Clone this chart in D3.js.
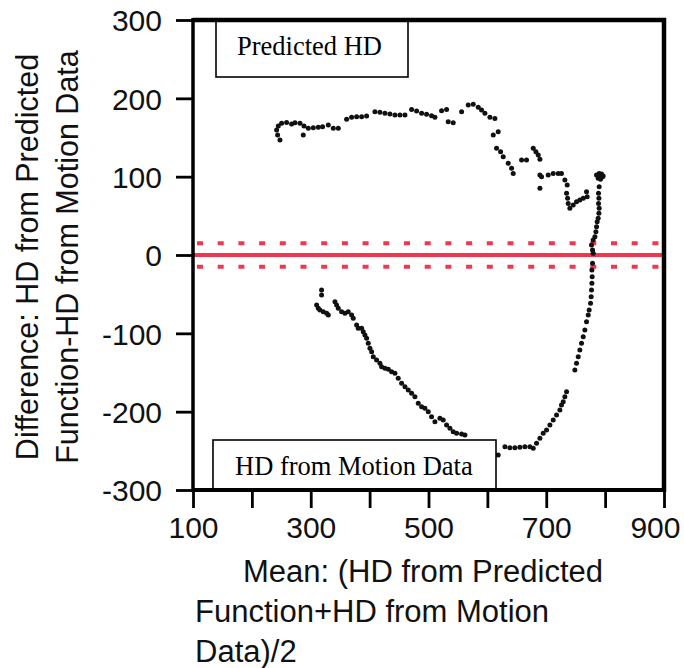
<!DOCTYPE html>
<html>
<head>
<meta charset="utf-8">
<script src="https://cdn.jsdelivr.net/npm/d3@7"></script>
<style>
  body { margin: 0; background: #fff; }
  svg { display: block; }
</style>
</head>
<body>
<div id="wrapper"></div>
<script>
// upper branch: predicted HD larger than motion HD
const upperX = [247.7, 243.7, 242.0, 244.9, 250.5, 259.0, 267.5, 273.2, 281.7, 288.5, 287.3, 295.8, 304.3, 312.8, 320.1, 329.8, 338.3, 346.8,
  360.9, 369.4, 377.9, 386.4, 394.9, 409.0, 417.5, 426.0, 434.5, 443.0, 451.5, 460.0, 471.3, 479.8, 488.3, 496.7, 505.2, 510.9,
  522.2, 530.7, 533.5, 542.0, 556.2, 567.5, 576.0, 584.5, 590.1, 595.8, 604.3, 612.8, 610.0, 618.4, 615.6, 622.4, 626.9, 635.4,
  641.1, 643.9, 658.1, 666.5, 677.9, 682.4, 686.4, 689.2, 689.2, 692.0, 689.2, 703.3, 711.8, 720.3, 725.9, 731.6, 735.6, 734.5,
  736.2, 737.3, 740.1, 745.8, 751.4, 757.1, 762.8, 768.4, 769.5]
const upperY = [146.8, 153.2, 159.6, 164.7, 168.1, 169.3, 167.2, 168.9, 168.1, 164.7, 153.2, 161.7, 162.5, 163.0, 163.8, 165.9, 161.7, 161.7,
  173.2, 175.7, 176.6, 176.6, 177.4, 183.0, 182.1, 180.8, 180.0, 178.7, 178.7, 178.7, 185.9, 183.8, 180.8, 179.6, 177.8, 175.7,
  184.2, 185.9, 170.2, 168.9, 183.0, 191.5, 192.3, 188.5, 185.1, 180.8, 175.7, 174.4, 153.2, 157.4, 136.2, 131.9, 125.5, 117.0,
  110.6, 104.2, 121.3, 121.3, 136.2, 131.9, 127.6, 122.1, 102.1, 100.0, 85.1, 102.1, 104.2, 104.2, 104.2, 95.7, 89.3, 78.7,
  72.3, 65.9, 59.6, 63.8, 68.1, 70.2, 72.3, 80.8, 74.5]

// near-vertical part on the right, crossing zero
const rightX = [785.4, 789.9, 793.9, 795.6, 792.2, 788.2, 796.7, 791.1, 789.9, 788.8, 789.4, 788.8, 789.9, 789.4, 788.2, 786.5,
  785.4, 784.3, 782.6, 779.7, 776.9, 778.6, 779.7, 778.6, 777.5, 778.0, 777.5, 776.9, 776.3, 775.2, 772.9, 771.3, 768.4,
  765.6, 762.8, 759.9, 757.1, 754.3, 751.4, 748.6, 734.5, 731.6, 728.8, 725.9, 723.1, 717.5, 711.8, 706.2, 700.5, 694.8,
  689.2, 683.5, 677.9, 672.2, 663.7, 655.2, 646.7, 638.2, 629.8, 618.4]
const rightY = [102.1, 104.2, 103.4, 100.0, 96.6, 97.9, 100.8, 100.0, 87.2, 78.7, 72.3, 65.9, 59.6, 53.2, 46.8, 42.5,
  36.2, 29.8, 23.4, 19.1, 12.8, 6.4, 2.1, -10.6, -19.2, -27.7, -36.2, -44.7, -53.2, -61.7, -70.2, -76.6, -85.1,
  -95.7, -104.3, -112.8, -121.3, -129.8, -138.3, -146.8, -174.5, -180.8, -187.2, -191.5, -197.9, -204.2, -210.6, -217.0, -223.4, -227.7,
  -234.0, -240.4, -246.8, -244.7, -244.7, -245.5, -246.0, -246.0, -244.7, -255.3]

// lower-left branch
const lowerX = [318.4, 318.4, 310.0, 312.8, 315.6, 321.3, 327.0, 329.8, 341.1, 343.9, 346.8, 352.4, 358.1, 363.7, 369.4, 372.2,
  377.9, 380.7, 386.4, 389.2, 392.0, 394.9, 397.7, 400.5, 403.4, 406.2, 411.8, 417.5, 420.3, 426.0, 431.7, 437.3, 443.0,
  448.6, 454.3, 460.0, 465.6, 471.3, 476.9, 482.6, 488.3, 493.9, 499.6, 505.2, 510.9, 519.4, 525.0, 530.7, 536.4, 542.0,
  547.7, 556.2, 561.9]
const lowerY = [-44.7, -51.1, -63.8, -68.1, -70.2, -72.3, -74.5, -76.6, -59.6, -63.8, -68.1, -72.3, -74.5, -72.3, -76.6, -80.9,
  -89.4, -93.6, -93.6, -97.9, -102.1, -106.4, -112.8, -119.1, -123.4, -129.8, -134.0, -138.3, -142.6, -144.7, -145.9, -148.9, -151.1,
  -157.4, -163.8, -168.1, -172.3, -176.6, -180.8, -189.4, -193.6, -195.7, -200.0, -206.4, -212.8, -208.5, -210.6, -217.0, -221.3, -225.5,
  -227.7, -228.5, -229.8]

const meanDiff = 0
const limits = [15, -15]

const yTicks = [300, 200, 100, 0, -100, -200, -300]
const xTicks = [100, 200, 300, 400, 500, 600, 700, 800, 900]
const xLabels = [100, 300, 500, 700, 900]

const yTitle = ["Difference: HD from Predicted", "Function-HD from Motion Data"]
const xTitle = ["Mean: (HD from Predicted", "Function+HD from Motion", "Data)/2"]
const boxLabels = ["Predicted HD", "HD from Motion Data"]

const points = []
;[[upperX, upperY], [rightX, rightY], [lowerX, lowerY]].forEach(([xs, ys]) => {
  xs.forEach((x, i) => points.push({ x: x, y: ys[i] }))
})

const dms = { width: 684, height: 668, left: 193, right: 664, top: 20, bottom: 490 }

const svg = d3.select("#wrapper")
  .append("svg")
  .attr("width", dms.width)
  .attr("height", dms.height)

const xScale = d3.scaleLinear().domain([100, 900]).range([dms.left, dms.right])
const yScale = d3.scaleLinear().domain([-300, 300]).range([dms.bottom, dms.top])

const sans = "Arial, 'Liberation Sans', sans-serif"
const serif = "'Times New Roman', 'Liberation Serif', serif"

// red mean and limit lines
svg.append("line")
  .attr("x1", dms.left).attr("x2", dms.right)
  .attr("y1", yScale(meanDiff)).attr("y2", yScale(meanDiff))
  .attr("stroke", "#f0374f").attr("stroke-width", 4)

svg.selectAll(".limit")
  .data(limits)
  .join("line")
  .attr("x1", dms.left + 4).attr("x2", dms.right)
  .attr("y1", d => yScale(d)).attr("y2", d => yScale(d))
  .attr("stroke", "#f0374f").attr("stroke-width", 4)
  .attr("stroke-dasharray", "6 14.7")

// points
svg.selectAll(".dot")
  .data(points)
  .join("circle")
  .attr("cx", d => xScale(d.x))
  .attr("cy", d => yScale(d.y))
  .attr("r", 2.5)
  .attr("fill", "#111")

// legend-like boxes
const boxes = [
  { label: boxLabels[0], x: 216, y: 21, w: 192, h: 56, base: 55, tx: 237 },
  { label: boxLabels[1], x: 213, y: 440, w: 283, h: 50, base: 475, tx: 235 }
]
boxes.forEach(b => {
  svg.append("rect")
    .attr("x", b.x).attr("y", b.y).attr("width", b.w).attr("height", b.h)
    .attr("fill", "#fff").attr("stroke", "#000").attr("stroke-width", 1.6)
  svg.append("text")
    .attr("x", b.tx).attr("y", b.base)
    .style("font-family", serif).style("font-size", "26.5px")
    .text(b.label)
})

// y axis
const yAxis = svg.append("g")
  .attr("transform", `translate(${dms.left},0)`)
  .call(d3.axisLeft(yScale).tickValues(yTicks).tickSize(17).tickPadding(14)
    .tickFormat(d => String(d)))
yAxis.select(".domain").remove()
yAxis.selectAll(".tick line").attr("stroke", "#000").attr("stroke-width", 2.8)
yAxis.selectAll(".tick text")
  .style("font-family", sans).style("font-size", "30px").attr("fill", "#111")
  .attr("dy", "0.36em")

// x axis
const xAxis = svg.append("g")
  .attr("transform", `translate(0,${dms.bottom})`)
  .call(d3.axisBottom(xScale).tickValues(xTicks).tickSize(18)
    .tickFormat(d => xLabels.includes(d) ? String(d) : ""))
xAxis.select(".domain").remove()
xAxis.selectAll(".tick line").attr("stroke", "#000").attr("stroke-width", 2.8)
xAxis.selectAll(".tick text")
  .style("font-family", sans).style("font-size", "30px").attr("fill", "#111")
  .attr("y", 48).attr("dy", 0)
  .attr("text-anchor", d => d === 900 ? "end" : "middle")
  .attr("x", d => d === 900 ? 16 : 0)

// frame
svg.append("line").attr("x1", dms.left).attr("x2", dms.left).attr("y1", dms.top - 2).attr("y2", dms.bottom + 2)
  .attr("stroke", "#000").attr("stroke-width", 3.5)
svg.append("line").attr("x1", dms.left).attr("x2", dms.right + 2).attr("y1", dms.top).attr("y2", dms.top)
  .attr("stroke", "#000").attr("stroke-width", 4.5)
svg.append("line").attr("x1", dms.right).attr("x2", dms.right).attr("y1", dms.top - 2).attr("y2", dms.bottom + 2)
  .attr("stroke", "#000").attr("stroke-width", 4.5)
svg.append("line").attr("x1", dms.left).attr("x2", dms.right + 2).attr("y1", dms.bottom).attr("y2", dms.bottom)
  .attr("stroke", "#000").attr("stroke-width", 4)

// axis titles
svg.selectAll(".ytitle")
  .data(yTitle)
  .join("text")
  .attr("transform", (d, i) => `translate(${38 + i * 40},257) rotate(-90)`)
  .attr("text-anchor", "middle")
  .style("font-family", sans).style("font-size", "30.5px").attr("fill", "#111")
  .text(d => d)

svg.selectAll(".xtitle")
  .data(xTitle)
  .join("text")
  .attr("x", (d, i) => i === 0 ? 243 : 195)
  .attr("y", (d, i) => 582 + i * 40)
  .style("font-family", sans).style("font-size", "31px").attr("fill", "#111")
  .text(d => d)
</script>
</body>
</html>
